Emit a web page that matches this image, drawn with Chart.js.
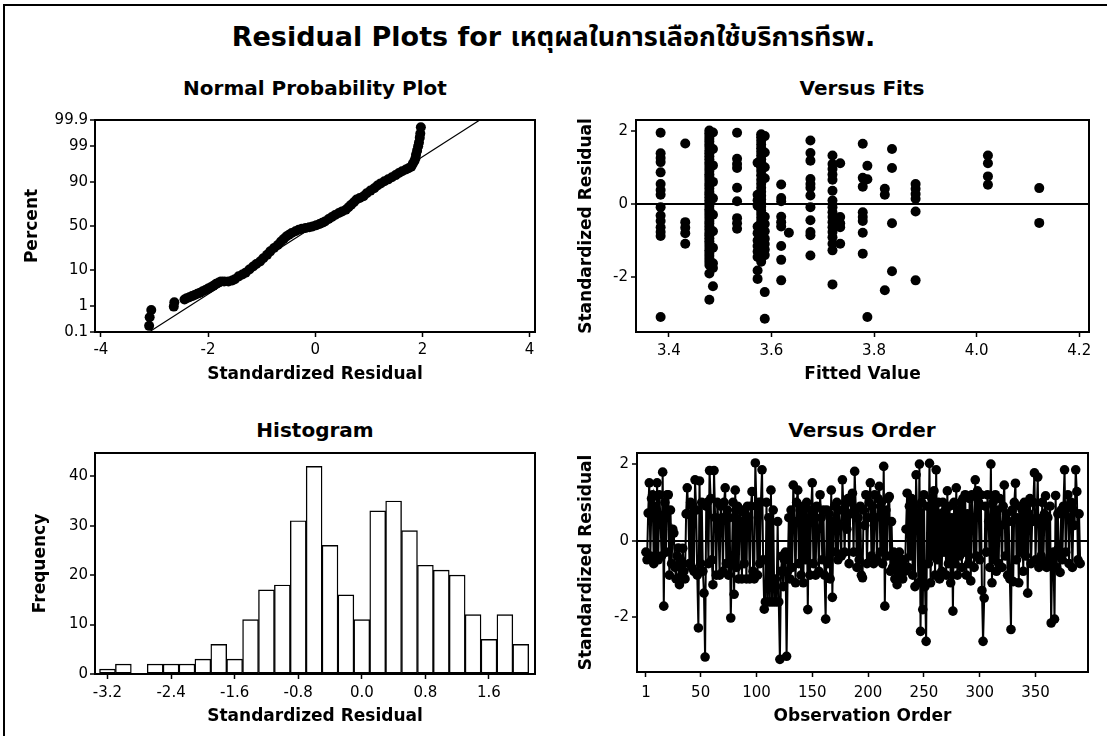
<!DOCTYPE html>
<html>
<head>
<meta charset="utf-8">
<script src="https://cdn.jsdelivr.net/npm/chart.js@4.4.0/dist/chart.umd.min.js"></script>
<style>
html,body{margin:0;padding:0;background:#fff;}
#page{position:relative;width:1107px;height:736px;overflow:hidden;background:#fff;}
#frame{position:absolute;left:3px;top:4px;width:1120px;height:760px;border-left:2px solid #000;border-top:2px solid #000;}
#title{position:absolute;left:0;width:1107px;top:21px;line-height:32px;text-align:center;font-weight:bold;font-size:27px;color:#000;
  font-family:'DejaVu Sans','Noto Sans','Noto Sans Thai',sans-serif;}
.ptitle{position:absolute;width:400px;line-height:22px;text-align:center;font-weight:bold;font-size:20px;color:#000;
  font-family:'DejaVu Sans',sans-serif;}
canvas{position:absolute;}
</style>
</head>
<body>
<div id="page">
  <div id="frame"></div>
  <div id="title">Residual Plots for เหตุผลในการเลือกใช้บริการทีรพ.</div>
  <div class="ptitle" style="left:115px;top:77px;">Normal Probability Plot</div>
  <div class="ptitle" style="left:662px;top:77px;">Versus Fits</div>
  <div class="ptitle" style="left:115px;top:419px;">Histogram</div>
  <div class="ptitle" style="left:662px;top:419px;">Versus Order</div>
  <canvas id="c1" width="553" height="330" style="left:0;top:70px;"></canvas>
  <canvas id="c2" width="554" height="330" style="left:553px;top:70px;"></canvas>
  <canvas id="c3" width="553" height="336" style="left:0;top:400px;"></canvas>
  <canvas id="c4" width="554" height="336" style="left:553px;top:400px;"></canvas>
</div>
<script>
// ---------------- DATA ----------------
// Normal probability plot (residual, percent)
const nppResidual = [-3.10,-3.09,-3.06,-2.64,-2.63,-2.44,-2.40,-2.35,-2.30,-2.25,-2.20,-2.15,-2.10,-2.05,-2.00,-1.95,-1.90,-1.85,-1.80,-1.76,-1.70,-1.62,-1.55,-1.50,-1.43,-1.36,-1.30,-1.23,-1.16,-1.10,-1.03,-0.97,-0.90,-0.84,-0.77,-0.70,-0.64,-0.59,-0.54,-0.49,-0.44,-0.37,-0.31,-0.25,-0.18,-0.11,-0.05,0.02,0.08,0.13,0.18,0.25,0.31,0.37,0.44,0.50,0.57,0.62,0.67,0.72,0.77,0.83,0.90,0.96,1.03,1.10,1.16,1.22,1.29,1.36,1.43,1.50,1.56,1.62,1.69,1.74,1.79,1.82,1.85,1.87,1.88,1.90,1.92,1.935,1.95,1.96,1.97];
const nppPercent = [0.18,0.39,0.72,0.94,1.3,1.6,1.75,1.9,2.05,2.2,2.4,2.6,2.85,3.1,3.4,3.7,4.1,4.6,5.0,5.3,5.3,5.3,5.6,6.0,7.1,7.9,8.7,10.2,11.9,13.4,15,17.3,20,23,26,29,32.6,35.3,38,40,42,44,45.7,46.8,47.7,48.6,49.5,51,52.3,53.8,55.3,58,60.4,62.6,64.8,66.5,68.3,70.8,73.3,75.6,78,79.3,80.7,83,84.9,86.5,88.1,89.3,90.4,91.3,92.2,93.1,93.9,94.5,95,95.4,95.8,96.5,97.1,97.6,98.1,98.6,99.0,99.25,99.5,99.65,99.8];
const nppLineResidual = [-3.10, 3.07];
const nppLinePercent = [0.1, 99.9];
const nppXTicks = [-4,-2,0,2,4];
const nppPctTicks = [0.1,1,10,50,90,99,99.9];

// Versus fits: fitted-value columns and the residuals in each column
const fitValues = [3.384,3.432,3.479,3.486,3.533,3.573,3.580,3.587,3.619,3.634,3.676,3.719,3.734,3.778,3.787,3.821,3.835,3.881,4.022,4.122];
const fitResiduals = [
  [1.94,1.38,1.25,1.14,0.86,0.54,0.38,0.25,-0.09,-0.32,-0.47,-0.64,-0.77,-0.88,-3.09],
  [1.65,-0.5,-0.65,-0.8,-1.09],
  [2.0,1.93,1.85,1.78,1.7,1.62,1.55,1.46,1.38,1.3,1.22,1.13,1.06,0.98,0.9,0.81,0.74,0.66,0.57,0.5,0.42,0.33,0.26,0.18,0.1,0.02,-0.06,-0.15,-0.22,-0.3,-0.38,-0.47,-0.54,-0.62,-0.7,-0.79,-0.86,-0.94,-1.02,-1.1,-1.18,-1.27,-1.34,-1.42,-1.5,-1.58,-1.67,-1.9,-2.62],
  [1.95,1.5,1.05,0.6,0.15,-0.3,-0.75,-1.2,-1.62,-1.75,-2.25],
  [1.94,1.23,1.09,0.98,0.44,0.07,-0.39,-0.53,-0.68],
  [1.12,0.25,0.1,-0.05,-0.62,-0.8,-1.0,-1.15,-1.3,-1.45,-1.82,-2.05],
  [1.9,1.82,1.72,1.62,1.52,1.42,1.32,1.22,1.12,1.0,0.9,0.78,0.66,0.55,0.44,0.33,0.22,0.12,0.02,-0.08,-0.18,-0.28,-0.38,-0.48,-0.58,-0.68,-0.78,-0.88,-0.98,-1.08,-1.18,-1.28,-1.38,-1.48,-1.58],
  [1.85,1.4,1.0,0.7,-0.35,-0.55,-0.75,-0.95,-1.1,-1.25,-1.4,-2.41,-3.14],
  [0.53,0.16,0.07,-0.35,-0.5,-0.62,-1.15,-1.53,-2.09],
  [-0.79],
  [1.73,1.39,1.18,0.68,0.54,0.44,0.23,-0.09,-0.45,-0.77,-0.86,-1.41],
  [1.32,1.09,0.95,0.8,0.66,0.36,0.09,-0.09,-0.23,-0.36,-0.5,-0.64,-0.77,-0.91,-1.09,-1.27,-2.2],
  [1.11,-0.36,-0.53,-0.64,-1.09],
  [1.64,0.71,0.47,-0.23,-0.36,-0.47,-0.79,-1.36],
  [1.04,0.67,-3.09],
  [0.41,0.25,-2.36],
  [1.5,0.98,-0.53,-1.84],
  [0.54,0.41,0.27,0.14,-0.21,-2.09],
  [1.32,1.11,0.75,0.52],
  [0.43,-0.52]
];
const fitXTicks = [3.4,3.6,3.8,4.0,4.2];
const residTicks = [-2,0,2];

// Histogram of standardized residuals (bin midpoints, counts)
const histMid = [-3.2,-3.0,-2.8,-2.6,-2.4,-2.2,-2.0,-1.8,-1.6,-1.4,-1.2,-1.0,-0.8,-0.6,-0.4,-0.2,0.0,0.2,0.4,0.6,0.8,1.0,1.2,1.4,1.6,1.8,2.0];
const histFreq = [1,2,0,2,2,2,3,6,3,11,17,18,31,42,26,16,11,33,35,29,22,21,20,12,7,12,6];
const histXTicks = [-3.2,-2.4,-1.6,-0.8,0.0,0.8,1.6];
const histYTicks = [0,10,20,30,40];

// Versus order: residual by observation (1..390)
const orderResid = [
 -0.3,-0.5,0.72,1.51,-0.4,1.1,1.2,-0.6,0.9,-0.4,
 1.51,-0.5,1.2,0.6,-0.4,1.79,-1.71,1.0,-0.3,1.2,
 1.2,-0.9,0.8,-0.6,0.3,0.2,-0.7,-1.0,-0.4,-0.19,
 -1.15,-0.5,-0.9,-0.2,-0.8,-1.0,0.7,1.38,0.69,-0.6,
 1.0,-0.7,0.9,-0.8,1.59,0.8,-0.9,-2.28,1.56,-0.6,
 1.0,-0.8,-1.37,-3.04,0.9,1.0,-0.6,1.83,1.1,-0.5,
 -1.15,1.83,0.6,-0.9,1.0,0.4,-0.9,0.9,0.6,-0.8,
 1.0,1.38,-0.6,0.8,-0.9,0.6,-2.02,-0.5,1.0,-1.4,
 1.32,-0.7,0.9,-1.0,0.8,0.5,-1.0,0.8,-0.6,0.7,
 -1.0,0.9,0.6,-1.0,0.9,1.28,-0.8,-1.0,2.03,0.9,
 -0.9,1.0,-0.6,1.0,1.85,-0.5,-1.79,-1.6,1.0,-1.6,
 0.6,-1.6,1.32,-1.6,0.8,-1.6,-1.0,-1.6,0.5,-1.6,
 -3.1,-0.8,-0.4,-1.2,-0.5,-0.3,-3.02,-0.8,0.6,-1.0,
 0.8,-0.7,1.45,0.5,-1.1,1.0,1.32,-0.6,0.9,-0.9,
 0.7,-1.1,0.9,-0.5,1.0,-1.8,0.6,-0.9,0.8,1.51,
 -0.6,0.8,-0.9,0.9,0.3,-0.8,1.2,0.6,-0.5,0.8,
 -0.9,-2.05,0.8,-0.6,0.7,-1.0,1.32,-1.48,0.5,0.9,
 -0.3,1.0,-0.5,0.8,0.4,-0.4,1.59,0.8,-0.3,1.0,
 0.3,1.1,-0.6,0.7,1.0,1.24,-0.3,1.81,0.8,-0.7,
 0.6,-0.5,0.9,-0.9,-0.97,0.8,0.4,1.2,-0.6,0.6,
 1.0,1.51,-0.4,0.9,-0.6,1.2,0.6,-0.5,1.1,1.42,
 -0.3,1.0,-0.6,1.94,-1.71,0.8,-0.4,1.1,1.15,-0.8,
 0.5,-0.7,-0.3,-1.0,-0.5,-1.15,-0.7,-0.3,-0.9,-0.5,
 -1.0,-0.5,-0.8,0.3,1.24,-0.7,0.9,-0.4,1.1,-0.9,
 0.9,-1.2,1.72,0.6,-1.1,2.0,-2.37,1.0,-1.8,1.2,
 -1.2,-2.63,0.9,-0.6,2.02,-1.1,1.1,-0.4,1.3,-0.9,
 1.85,-0.5,1.0,-1.0,0.7,-0.8,1.0,-0.3,0.8,-0.9,
 1.3,-0.6,0.9,-1.1,0.6,-1.84,1.0,-0.6,1.38,-0.9,
 0.8,-0.4,1.0,-0.7,1.1,-0.3,1.2,-0.9,0.7,-0.6,
 1.1,-1.05,1.2,0.6,-0.7,1.59,-0.4,1.3,1.0,-0.5,
 1.2,-1.3,-2.63,-1.5,0.9,-0.3,1.2,0.5,-0.7,2.0,
 -1.1,1.0,-0.5,1.2,-0.8,0.8,-0.6,1.1,0.4,-0.7,
 0.9,1.45,-0.4,0.7,-0.9,0.5,-1.0,-2.32,0.8,-1.07,
 1.0,1.5,-0.5,0.6,-1.1,0.9,-0.3,0.8,-0.8,1.0,
 -0.4,0.9,-1.37,0.7,1.1,-0.6,0.5,1.0,1.77,-0.5,
 0.6,1.66,-0.7,0.5,-0.4,1.0,-0.6,0.7,1.17,-0.7,
 0.6,-0.5,0.9,-2.15,-0.4,-0.3,-2.05,1.18,-0.7,0.7,
 -0.4,-0.83,0.8,-0.5,0.9,1.85,-0.3,0.9,1.2,-0.6,
 0.6,1.0,-0.7,0.8,0.4,1.85,1.28,-0.5,0.7,-0.6
];
const orderXTicks = [1,50,100,150,200,250,300,350];

// ---------------- HELPERS ----------------
const FAM = "'DejaVu Sans',sans-serif";
const BLACK = '#000';

function probit(pct){
  const p = pct/100;
  const a=[-3.969683028665376e+01,2.209460984245205e+02,-2.759285104469687e+02,1.383577518672690e+02,-3.066479806614716e+01,2.506628277459239e+00];
  const b=[-5.447609879822406e+01,1.615858368580409e+02,-1.556989798598866e+02,6.680131188771972e+01,-1.328068155288572e+01];
  const c=[-7.784894002430293e-03,-3.223964580411365e-01,-2.400758277161838e+00,-2.549732539343734e+00,4.374664141464968e+00,2.938163982698783e+00];
  const d=[7.784695709041462e-03,3.224671290700398e-01,2.445134137142996e+00,3.754408661907416e+00];
  const pl=0.02425, ph=1-pl; let q, r;
  if (p < pl){ q=Math.sqrt(-2*Math.log(p)); return (((((c[0]*q+c[1])*q+c[2])*q+c[3])*q+c[4])*q+c[5])/((((d[0]*q+d[1])*q+d[2])*q+d[3])*q+1); }
  if (p <= ph){ q=p-0.5; r=q*q; return (((((a[0]*r+a[1])*r+a[2])*r+a[3])*r+a[4])*r+a[5])*q/(((((b[0]*r+b[1])*r+b[2])*r+b[3])*r+b[4])*r+1); }
  q=Math.sqrt(-2*Math.log(1-p)); return -(((((c[0]*q+c[1])*q+c[2])*q+c[3])*q+c[4])*q+c[5])/((((d[0]*q+d[1])*q+d[2])*q+d[3])*q+1);
}

// Normal-probability (percent) scale built on Chart.js' linear scale
class ProbabilityScale extends Chart.LinearScale {
  determineDataLimits(){ this.min = probit(this.options.pctMin); this.max = probit(this.options.pctMax); }
  buildTicks(){ return nppPctTicks.map(v => ({value: v})); }
  getPixelForValue(v){ return super.getPixelForValue(probit(v)); }
}
ProbabilityScale.id = 'probability';
ProbabilityScale.defaults = {};
Chart.register(ProbabilityScale);

const framePlugin = {
  id: 'frame',
  afterDraw(chart){
    const {ctx, chartArea: a} = chart;
    ctx.save(); ctx.strokeStyle = BLACK; ctx.lineWidth = 2;
    ctx.strokeRect(a.left, a.top, a.right - a.left, a.bottom - a.top);
    ctx.restore();
  }
};

function tickFont(){ return {family: FAM, size: 15, weight: 'normal'}; }
function titleFont(){ return {family: FAM, size: 17, weight: 'bold'}; }

function xScale(o){
  return {
    type: 'linear', position: 'bottom', min: o.min, max: o.max, offset: false,
    afterFit: s => { s.height = o.height; },
    afterBuildTicks: s => { s.ticks = o.ticks.map(v => ({value: v})); },
    ticks: {font: tickFont(), color: BLACK, padding: o.pad, maxRotation: 0, autoSkip: false, callback: o.fmt},
    grid: {display: true, drawOnChartArea: false, offset: false, tickLength: 5, tickColor: BLACK, tickWidth: 1.5, color: BLACK},
    border: {display: false},
    title: {display: true, text: o.title, font: titleFont(), color: BLACK, padding: {top: 0, bottom: o.tpad}}
  };
}
function yScale(o){
  const s = {
    type: o.type || 'linear', position: 'left', min: o.min, max: o.max,
    afterFit: sc => { sc.width = o.width; },
    ticks: {font: tickFont(), color: BLACK, padding: o.pad, autoSkip: false, callback: o.fmt},
    grid: {display: true, drawOnChartArea: !!o.zeroLine, tickLength: 5, tickColor: BLACK, tickWidth: 1.5,
           lineWidth: 2, color: o.zeroLine ? (c => (c.tick && c.tick.value === 0) ? BLACK : 'rgba(0,0,0,0)') : BLACK},
    border: {display: false},
    title: {display: true, text: o.title, font: titleFont(), color: BLACK, padding: {top: o.tpad, bottom: 0}}
  };
  if (o.ticks) s.afterBuildTicks = sc => { sc.ticks = o.ticks.map(v => ({value: v})); };
  if (o.pctMin !== undefined){ s.pctMin = o.pctMin; s.pctMax = o.pctMax; delete s.min; delete s.max; }
  return s;
}
const common = {
  responsive: false, animation: false, devicePixelRatio: 1,
  plugins: {legend: {display: false}, tooltip: {enabled: false}, title: {display: false}}
};

// ---------------- 1. Normal probability plot ----------------
new Chart(document.getElementById('c1'), {
  type: 'scatter',
  data: {datasets: [
    {type: 'line', data: nppLineResidual.map((r, i) => ({x: r, y: nppLinePercent[i]})),
     borderColor: BLACK, borderWidth: 1.2, pointRadius: 0, fill: false, order: 2},
    {data: nppResidual.map((r, i) => ({x: r, y: nppPercent[i]})),
     pointRadius: 5, pointBackgroundColor: BLACK, pointBorderWidth: 0, order: 1}
  ]},
  options: Object.assign({}, common, {
    layout: {padding: {top: 50, right: 18, left: 0, bottom: 0}},
    scales: {
      x: xScale({min: -4.11, max: 4.1, height: 68, ticks: nppXTicks, pad: 4, tpad: 15, title: 'Standardized Residual', fmt: v => String(v)}),
      y: yScale({type: 'probability', pctMin: 0.1, pctMax: 99.9, width: 95, pad: 2, tpad: 22, title: 'Percent', fmt: v => String(v)})
    }
  }),
  plugins: [framePlugin]
});

// ---------------- 2. Versus fits ----------------
new Chart(document.getElementById('c2'), {
  type: 'scatter',
  data: {datasets: [{
    data: fitValues.flatMap((f, i) => fitResiduals[i].map(r => ({x: f, y: r}))),
    pointRadius: 5, pointBackgroundColor: BLACK, pointBorderWidth: 0
  }]},
  options: Object.assign({}, common, {
    layout: {padding: {top: 50, right: 18, left: 0, bottom: 0}},
    scales: {
      x: xScale({min: 3.336, max: 4.219, height: 68, ticks: fitXTicks, pad: 5, tpad: 15, title: 'Fitted Value', fmt: v => Number(v).toFixed(1)}),
      y: yScale({min: -3.5, max: 2.29, width: 83, ticks: residTicks, pad: 3, tpad: 23, title: 'Standardized Residual', zeroLine: true, fmt: v => String(v)})
    }
  }),
  plugins: [framePlugin]
});

// ---------------- 3. Histogram ----------------
new Chart(document.getElementById('c3'), {
  type: 'bar',
  data: {datasets: [{
    data: histMid.map((m, i) => ({x: m, y: histFreq[i]})),
    backgroundColor: '#fff', borderColor: BLACK, borderWidth: 1.4, borderSkipped: false,
    barPercentage: 1, categoryPercentage: 1
  }]},
  options: Object.assign({}, common, {
    layout: {padding: {top: 53, right: 18, left: 0, bottom: 0}},
    scales: {
      x: xScale({min: -3.357, max: 2.179, height: 62, ticks: histXTicks, pad: 5, tpad: 9, title: 'Standardized Residual', fmt: v => Number(v).toFixed(1)}),
      y: yScale({min: 0, max: 44.7, width: 95, ticks: histYTicks, pad: 2, tpad: 30, title: 'Frequency', fmt: v => String(v)})
    }
  }),
  plugins: [framePlugin]
});

// ---------------- 4. Versus order ----------------
new Chart(document.getElementById('c4'), {
  type: 'line',
  data: {datasets: [{
    data: orderResid.map((r, i) => ({x: i + 1, y: r})),
    borderColor: BLACK, borderWidth: 2, pointRadius: 4.8, pointBackgroundColor: BLACK, pointBorderWidth: 0, tension: 0, fill: false
  }]},
  options: Object.assign({}, common, {
    layout: {padding: {top: 53, right: 19, left: 0, bottom: 0}},
    scales: {
      x: xScale({min: -7, max: 397, height: 64, ticks: orderXTicks, pad: 7, tpad: 9, title: 'Observation Order', fmt: v => String(v)}),
      y: yScale({min: -3.43, max: 2.29, width: 84, ticks: residTicks, pad: 3, tpad: 23, title: 'Standardized Residual', zeroLine: true, fmt: v => String(v)})
    }
  }),
  plugins: [framePlugin]
});
</script>
</body>
</html>
